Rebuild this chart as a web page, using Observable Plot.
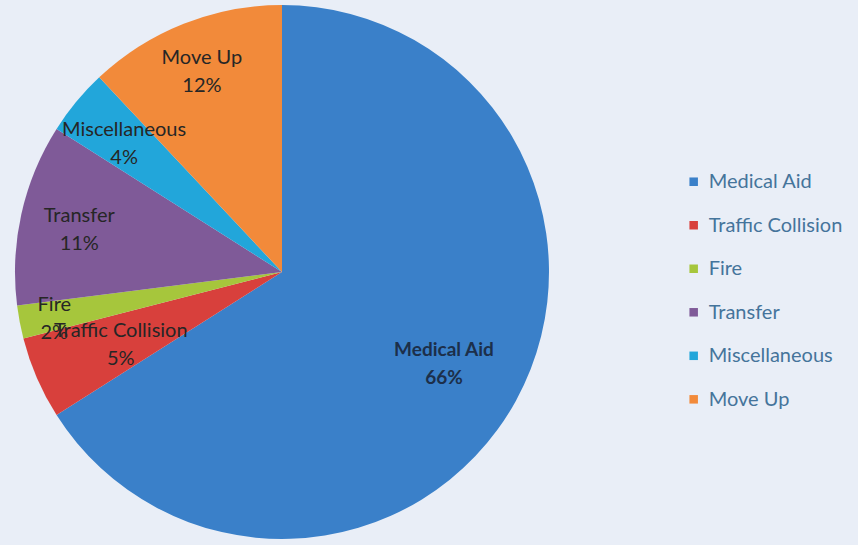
<!DOCTYPE html>
<html>
<head>
<meta charset="utf-8">
<script src="https://cdn.jsdelivr.net/npm/d3@7"></script>
<script src="https://cdn.jsdelivr.net/npm/@observablehq/plot@0.6"></script>
<style>
  html, body { margin: 0; padding: 0; background: #e9eef7; }
  #chart { width: 858px; height: 545px; }
</style>
</head>
<body>
<div id="chart"></div>
<script>
// ---- data ----
const categories = ["Medical Aid", "Traffic Collision", "Fire", "Transfer", "Miscellaneous", "Move Up"];
const values = [66, 5, 2, 11, 4, 12];
const colors = ["#3a80c9", "#d8403c", "#a6c63c", "#7f5a98", "#22a6da", "#f28a3a"];

// ---- layout (pixels) ----
const W = 858, H = 545;
const CX = 282, CY = 272, R = 267;

const slices = d3.pie().sort(null).value(d => d.value)(
  categories.map((c, i) => ({category: c, value: values[i]}))
);

// label radius factor per slice (fraction of R), to mimic the original placement
const labelR = {"Medical Aid": 0.69, "Traffic Collision": 0.66, "Fire": 0.87, "Transfer": 0.78, "Miscellaneous": 0.77, "Move Up": 0.82};
const labels = slices.map(s => {
  const a = (s.startAngle + s.endAngle) / 2;
  const r = labelR[s.data.category];
  return {
    category: s.data.category,
    text: s.data.category + "\n" + s.data.value + "%",
    x: r * Math.sin(a),
    y: r * Math.cos(a),
    bold: s.data.category === "Medical Aid"
  };
});

const legend = categories.map((c, i) => ({category: c, x: 1.54, y: 0.34 - i * 0.163}));

const pieMark = (index, scales) => {
  const x0 = scales.x(0), y0 = scales.y(0);
  const rad = scales.x(1) - scales.x(0);
  const arc = d3.arc().innerRadius(0).outerRadius(rad);
  const g = d3.create("svg:g").attr("transform", `translate(${x0},${y0})`);
  g.selectAll("path").data(slices).join("path")
    .attr("d", arc)
    .attr("fill", d => scales.color(d.data.category));
  return g.node();
};

const plot = Plot.plot({
  width: W, height: H,
  margin: 0,
  x: {domain: [(0 - CX) / R, (W - CX) / R], axis: null},
  y: {domain: [-(H - CY) / R, CY / R], axis: null},
  color: {domain: categories, range: colors},
  style: {background: "transparent", fontFamily: "Lato, 'Open Sans', sans-serif"},
  marks: [
    pieMark,
    Plot.text(labels.filter(d => !d.bold), {x: "x", y: "y", text: "text", fill: "#262626", fontSize: 20, lineHeight: 1.4}),
    Plot.text(labels.filter(d => d.bold), {x: "x", y: "y", text: "text", fill: "#1c2f4a", fontSize: 19, fontWeight: "bold", lineHeight: 1.45}),
    Plot.dot(legend, {x: "x", y: "y", fill: "category", symbol: "square", r: 4.8}),
    Plot.text(legend, {x: "x", y: "y", text: "category", dx: 15, textAnchor: "start", fill: "#45749b", fontSize: 20, letterSpacing: 0.6})
  ]
});
document.getElementById("chart").appendChild(plot);
</script>
</body>
</html>
